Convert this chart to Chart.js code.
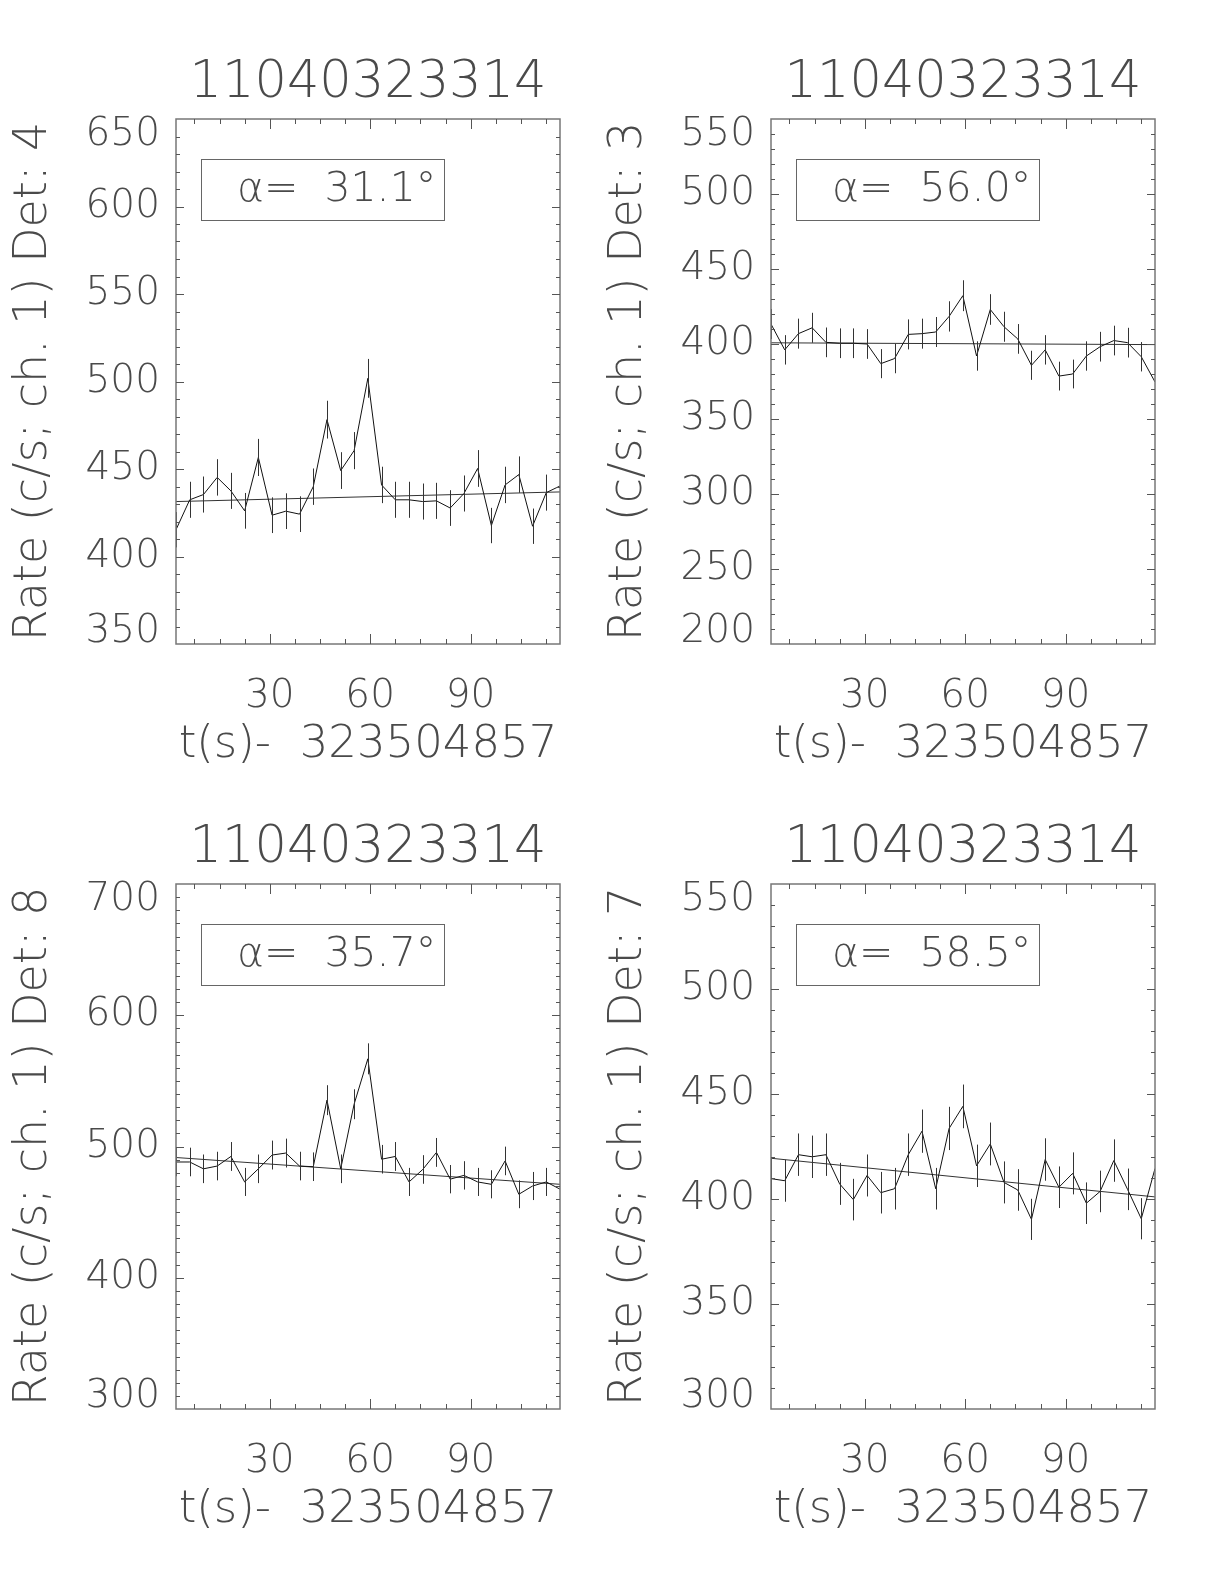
<!DOCTYPE html>
<html>
<head>
<meta charset="utf-8">
<title>11040323314</title>
<script src="https://cdn.jsdelivr.net/npm/chart.js@4.4.1/dist/chart.umd.min.js"></script>
<style>
  html, body { margin: 0; padding: 0; background: #fff; }
  #page { position: relative; width: 1224px; height: 1584px; overflow: hidden; background: #fff; }
  .panel { position: absolute; width: 612px; height: 792px; }
</style>
</head>
<body>
<div id="page">
  <div class="panel" style="left:0px;top:0px"><canvas id="det4" width="612" height="792"></canvas></div>
  <div class="panel" style="left:595px;top:0px"><canvas id="det3" width="612" height="792"></canvas></div>
  <div class="panel" style="left:0px;top:765px"><canvas id="det8" width="612" height="792"></canvas></div>
  <div class="panel" style="left:595px;top:765px"><canvas id="det7" width="612" height="792"></canvas></div>
</div>
<script>
// --- data ---
const runId = '11040323314';
const xTitle = 't(s)-  323504857';
const xTickLabels = [30, 60, 90];
const tStart = 2.0, tEnd = 116.7;

// bin times (s since 323504857)
const times = [2.0, 6.1, 10.2, 14.3, 18.4, 22.5, 26.6, 30.7, 34.8, 38.9, 43.0, 47.1, 51.2, 55.2, 59.3,
               63.4, 67.5, 71.6, 75.7, 79.8, 83.9, 88.0, 92.1, 96.2, 100.3, 104.4, 108.5, 112.6, 116.7];
const fitTimes = [2.0, 116.7];

// Det 4
const det4Rate = [415.3, 432.4, 435.4, 445.2, 437.5, 426.1, 456.6, 423.6, 425.9, 424.2, 439.9, 478.2, 449.1, 460.5, 501.8,
                  440.9, 432.4, 432.4, 431.4, 431.8, 427.7, 436.0, 450.3, 417.7, 440.9, 446.8, 417.3, 436.5, 440.3];
const det4Err  = [10.1, 10.3, 10.3, 10.4, 10.3, 10.2, 10.6, 10.2, 10.2, 10.2, 10.4, 10.8, 10.5, 10.6, 11.1,
                  10.4, 10.3, 10.3, 10.3, 10.3, 10.2, 10.3, 10.5, 10.1, 10.4, 10.4, 10.1, 10.3, 10.4];
const det4Fit  = [431.4, 436.9];

// Det 3
const det3Rate = [413.3, 396.1, 406.9, 410.8, 401.1, 400.5, 400.5, 400.0, 386.9, 390.3, 406.4, 406.9, 408.0, 418.4, 432.2,
                  392.0, 423.0, 411.5, 403.4, 385.8, 396.1, 378.6, 380.0, 392.0, 398.2, 402.3, 400.9, 391.5, 374.7];
const det3Err  = [10.0, 9.8, 10.0, 10.0, 9.9, 9.9, 9.9, 9.9, 9.7, 9.8, 10.0, 10.0, 10.0, 10.1, 10.3,
                  9.8, 10.2, 10.0, 9.9, 9.7, 9.8, 9.6, 9.6, 9.8, 9.9, 9.9, 9.9, 9.8, 9.6];
const det3Fit  = [400.8, 399.6];

// Det 8
const det8Rate = [488.2, 488.2, 483.0, 485.1, 492.4, 473.0, 483.0, 493.5, 495.0, 485.1, 484.6, 535.3, 483.0, 532.2, 566.8,
                  490.3, 492.4, 473.0, 482.5, 495.5, 475.1, 478.0, 473.0, 471.2, 489.0, 463.6, 469.9, 473.0, 467.5];
const det8Err  = [10.9, 10.9, 10.9, 10.9, 11.0, 10.7, 10.9, 11.0, 11.0, 10.9, 10.9, 11.4, 10.9, 11.4, 11.8,
                  10.9, 11.0, 10.7, 10.9, 11.0, 10.8, 10.8, 10.7, 10.7, 10.9, 10.6, 10.7, 10.7, 10.7];
const det8Fit  = [491.6, 471.2];

// Det 7
const det7Rate = [409.7, 408.7, 421.1, 420.1, 421.1, 407.2, 399.7, 411.2, 403.0, 404.9, 421.1, 432.3, 404.9, 433.6, 444.1,
                  415.8, 426.2, 407.9, 404.3, 390.3, 418.8, 405.6, 412.2, 398.0, 403.6, 418.3, 404.6, 390.6, 414.5];
const det7Err  = [10.0, 10.0, 10.1, 10.1, 10.1, 10.0, 9.9, 10.0, 9.9, 9.9, 10.1, 10.3, 9.9, 10.3, 10.4,
                  10.1, 10.2, 10.0, 9.9, 9.8, 10.1, 9.9, 10.0, 9.9, 9.9, 10.1, 9.9, 9.8, 10.1];
const det7Fit  = [419.4, 401.0];

const detectors = [4, 3, 8, 7];
const alphas = ['31.1', '56.0', '35.7', '58.5'];
const yMins = [350, 200, 300, 300];
const yMaxs = [650, 550, 700, 550];
const ySteps = [50, 50, 100, 50];
const yMinor = 10;
const xMinor = 7.5;

const FONT = "'DejaVu Sans', 'Liberation Sans', sans-serif";
const TXT = '#4a4a4a';
const INK = '#111';

// IDL-style box: frame, inward ticks on all four sides, error bars, y labels, angle label
const idlFrame = {
    id: 'idlFrame',
    afterDatasetsDraw(chart, args, opts) {
        const { ctx, chartArea: a } = chart;
        const x = chart.scales.x, y = chart.scales.y;
        ctx.save();

        // error bars
        ctx.beginPath();
        ctx.rect(a.left, a.top, a.right - a.left, a.bottom - a.top);
        ctx.clip();
        ctx.strokeStyle = '#333';
        ctx.lineWidth = 1;
        ctx.beginPath();
        opts.rate.forEach((v, i) => {
            const px = Math.round(x.getPixelForValue(times[i])) + 0.5;
            ctx.moveTo(px, y.getPixelForValue(v - opts.err[i]));
            ctx.lineTo(px, y.getPixelForValue(v + opts.err[i]));
        });
        ctx.stroke();
        ctx.restore();

        ctx.save();
        ctx.strokeStyle = '#777';
        ctx.lineWidth = 1.5;
        ctx.strokeRect(a.left, a.top, a.right - a.left, a.bottom - a.top);

        ctx.lineWidth = 1;
        ctx.strokeStyle = '#555';
        ctx.beginPath();
        // x ticks
        for (let v = Math.ceil(x.min / xMinor) * xMinor; v < x.max; v += xMinor) {
            const px = Math.round(x.getPixelForValue(v)) + 0.5;
            const len = (v % 30 === 0) ? 10 : 5;
            ctx.moveTo(px, a.bottom); ctx.lineTo(px, a.bottom - len);
            ctx.moveTo(px, a.top); ctx.lineTo(px, a.top + len);
        }
        // y ticks
        for (let v = y.min + yMinor; v < y.max; v += yMinor) {
            const py = Math.round(y.getPixelForValue(v)) + 0.5;
            const len = ((v - y.min) % opts.step === 0) ? 8 : 4;
            ctx.moveTo(a.left, py); ctx.lineTo(a.left + len, py);
            ctx.moveTo(a.right, py); ctx.lineTo(a.right - len, py);
        }
        ctx.stroke();

        // y tick labels, end labels pulled inside the box like the original
        ctx.fillStyle = TXT;
        ctx.font = '200 39px ' + FONT;
        ctx.textAlign = 'right';
        ctx.textBaseline = 'middle';
        const n = y.ticks.length;
        y.ticks.forEach((t, i) => {
            let py = y.getPixelForValue(t.value);
            if (i === 0) py -= 12;
            if (i === n - 1) py += 16;
            ctx.fillText(String(t.value), a.left - 16, py);
        });

        // angle box
        const bx = a.left + 25, by = a.top + 40;
        ctx.strokeStyle = '#666';
        ctx.strokeRect(bx + 0.5, by + 0.5, 243, 61);
        ctx.fillStyle = TXT;
        ctx.font = '200 41px ' + FONT;
        ctx.textAlign = 'left';
        ctx.fillText('\u03b1=  ' + opts.alpha + '\u00b0', bx + 36, by + 31);
        ctx.restore();
    }
};

function makePanel(id, k, rate, err, fit) {
    new Chart(document.getElementById(id), {
        type: 'line',
        data: {
            datasets: [
                {
                    data: times.map((t, i) => ({ x: t, y: rate[i] })),
                    borderColor: INK, borderWidth: 1, pointRadius: 0, tension: 0, fill: false
                },
                {
                    data: fitTimes.map((t, i) => ({ x: t, y: fit[i] })),
                    borderColor: '#333', borderWidth: 1, pointRadius: 0, tension: 0, fill: false
                }
            ]
        },
        options: {
            responsive: false,
            animation: false,
            events: [],
            layout: { padding: { top: 58, left: 0, right: 52, bottom: 0 } },
            plugins: {
                legend: { display: false },
                tooltip: { enabled: false },
                title: {
                    display: true, text: runId, fullSize: false, color: TXT,
                    font: { family: FONT, size: 51, weight: 200, lineHeight: 1 },
                    padding: { top: 0, bottom: 10 }
                },
                idlFrame: { rate, err, alpha: alphas[k], step: ySteps[k] }
            },
            scales: {
                x: {
                    type: 'linear', min: tStart, max: tEnd,
                    afterBuildTicks: s => { s.ticks = xTickLabels.map(v => ({ value: v })); },
                    afterFit: s => { s.height = 148; },
                    grid: { display: false, drawTicks: false },
                    border: { display: false },
                    ticks: { color: TXT, font: { family: FONT, size: 39, weight: 200, lineHeight: 1 },
                             padding: 33, maxRotation: 0, autoSkip: false },
                    title: { display: true, text: xTitle, color: TXT,
                             font: { family: FONT, size: 45, weight: 200, lineHeight: 1 },
                             padding: { top: 0, bottom: 24 } }
                },
                y: {
                    type: 'linear', min: yMins[k], max: yMaxs[k],
                    afterFit: s => { s.width = 176; },
                    grid: { display: false, drawTicks: false },
                    border: { display: false },
                    ticks: { display: false, stepSize: ySteps[k], autoSkip: false },
                    title: { display: true, text: 'Rate (c/s; ch. 1) Det: ' + detectors[k], color: TXT,
                             font: { family: FONT, size: 46, weight: 200, lineHeight: 1 },
                             padding: { top: 11, bottom: 0 } }
                }
            }
        },
        plugins: [idlFrame]
    });
}

makePanel('det4', 0, det4Rate, det4Err, det4Fit);
makePanel('det3', 1, det3Rate, det3Err, det3Fit);
makePanel('det8', 2, det8Rate, det8Err, det8Fit);
makePanel('det7', 3, det7Rate, det7Err, det7Fit);
</script>
</body>
</html>
